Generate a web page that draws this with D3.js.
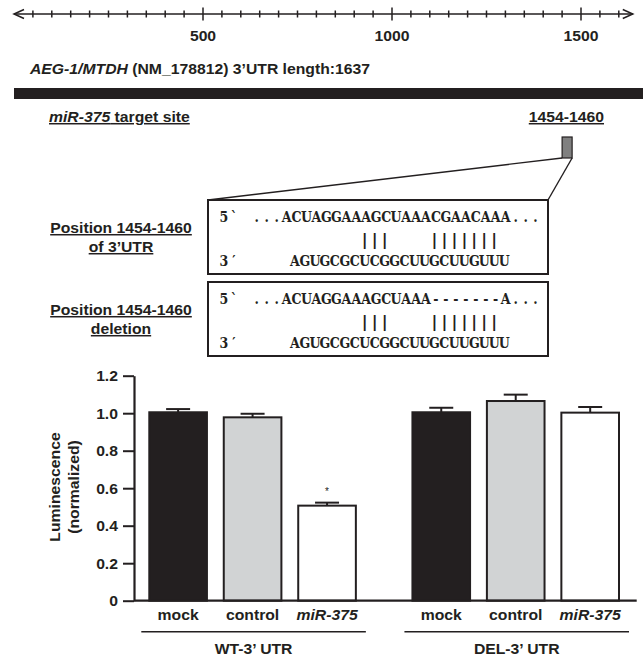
<!DOCTYPE html>
<html>
<head>
<meta charset="utf-8">
<script src="https://cdn.jsdelivr.net/npm/d3@7"></script>
<style>
  body { margin: 0; background: #fff; }
  svg { display: block; }
</style>
</head>
<body>
<svg id="fig"></svg>
<script>
// ---- data ----
var utrLength = 1637;
var rulerMajor = [500, 1000, 1500];
var rulerMinor = [50,100,150,200,250,300,350,400,450,550,600,650,700,750,800,850,900,950,
                  1050,1100,1150,1200,1250,1300,1350,1400,1450,1550,1600];
var siteRange = [1454, 1460];

var wtTarget  = "...ACUAGGAAAGCUAAACGAACAAA...";
var delTarget = "...ACUAGGAAAGCUAAA-------A...";
var mirSeq    = "AGUGCGCUCGGCUUGCUUGUUU";
var pairing   = "       |||    |||||||";

var groups = ["WT-3\u2019 UTR", "DEL-3\u2019 UTR"];
var treatments = ["mock", "control", "miR-375"];
var wtMeans  = [1.005, 0.978, 0.507];
var wtErrors = [0.017, 0.019, 0.016];
var delMeans  = [1.005, 1.065, 1.003];
var delErrors = [0.024, 0.034, 0.030];
var yTicks = [0, 0.2, 0.4, 0.6, 0.8, 1.0, 1.2];
var starred = [["WT-3\u2019 UTR", "miR-375"]];

var width = 643, height = 659;
var INK = "#231f20";
var SANS = "'Liberation Sans', Arial, Helvetica, sans-serif";
var SERIF = "'DejaVu Serif', 'Liberation Serif', serif";
var SX = 1.05;   // the figure's type is a bit wider than Arial
var FS = 15;
var CELL = 9.96; // monospace cell width
var MSX = 0.9;   // squeeze for the slab glyphs

var svg = d3.select("#fig").attr("width", width).attr("height", height);
svg.append("rect").attr("width", width).attr("height", height).attr("fill", "#fff");

// sans label, stretched along its own direction
function label(x, y, anchor, rot){
    return svg.append("text")
        .attr("transform", "translate(" + x + "," + y + ")" + (rot ? " rotate(" + rot + ")" : "") + " scale(" + SX + ",1)")
        .attr("text-anchor", anchor)
        .style("font-family", SANS)
        .style("font-weight", "bold")
        .style("font-size", FS + "px")
        .attr("fill", INK);
}

// typewriter row: every character sits in its own cell
function monoRow(x, y, str, font, size, sq){
    var xs = [], chars = "";
    str.split("").forEach(function(c, i){
        if (c === " ") return;
        xs.push(((x + i * CELL + CELL / 2) / sq).toFixed(2));
        chars += c;
    });
    svg.append("text")
        .attr("transform", "scale(" + sq + ",1)")
        .attr("x", xs.join(" ")).attr("y", y)
        .attr("text-anchor", "middle")
        .style("font-family", font)
        .style("font-weight", "bold")
        .style("font-size", size + "px")
        .attr("fill", INK)
        .text(chars);
}

// ---- ruler ----
var rx = d3.scaleLinear().domain([0, 1500]).range([14, 581]);
var ry = 14;

svg.append("line")
    .attr("x1", rx(0)).attr("x2", rx(utrLength))
    .attr("y1", ry).attr("y2", ry)
    .attr("stroke", INK).attr("stroke-width", 1.5);

svg.append("polyline")
    .attr("points", [[rx(0) + 10, ry - 4.5], [rx(0), ry], [rx(0) + 10, ry + 4.5]].join(" "))
    .attr("fill", "none").attr("stroke", INK).attr("stroke-width", 1.5);
svg.append("polyline")
    .attr("points", [[rx(utrLength) - 10, ry - 4.5], [rx(utrLength), ry], [rx(utrLength) - 10, ry + 4.5]].join(" "))
    .attr("fill", "none").attr("stroke", INK).attr("stroke-width", 1.5);

svg.append("g").selectAll("line").data(rulerMinor).join("line")
    .attr("x1", function(d){ return rx(d); }).attr("x2", function(d){ return rx(d); })
    .attr("y1", ry - 3.5).attr("y2", ry + 3.5)
    .attr("stroke", INK).attr("stroke-width", 1.5);
svg.append("g").selectAll("line").data(rulerMajor).join("line")
    .attr("x1", function(d){ return rx(d); }).attr("x2", function(d){ return rx(d); })
    .attr("y1", ry - 6.5).attr("y2", ry + 6.5)
    .attr("stroke", INK).attr("stroke-width", 1.5);

rulerMajor.forEach(function(d){
    label(rx(d), 40.5, "middle").text(d);
});

var t = label(30, 74, "start");
t.append("tspan").style("font-style", "italic").text("AEG-1/MTDH");
t.append("tspan").text(" (NM_178812) 3\u2019UTR length:" + utrLength);

// the 3'UTR bar
svg.append("rect")
    .attr("x", rx(0)).attr("y", 88)
    .attr("width", width - rx(0)).attr("height", 11)
    .attr("fill", INK);

var s = label(49, 122, "start").style("text-decoration", "underline");
s.append("tspan").style("font-style", "italic").text("miR-375");
s.append("tspan").text(" target site");

label(604, 122, "end").style("text-decoration", "underline")
    .text(siteRange[0] + "-" + siteRange[1]);

// site marker
var siteX = rx(siteRange[0]) - 1.5;
svg.append("rect")
    .attr("x", siteX).attr("y", 137)
    .attr("width", 10).attr("height", 21)
    .attr("fill", "#808080").attr("stroke", INK).attr("stroke-width", 1.2);

// ---- sequence boxes ----
var boxLeft = 208, boxRight = 548, boxH = 74;
var boxes = [
    {top: 200, lines: ["Position " + siteRange[0] + "-" + siteRange[1], "of 3\u2019UTR"], seq: wtTarget},
    {top: 282, lines: ["Position " + siteRange[0] + "-" + siteRange[1], "deletion"], seq: delTarget}
];

// zoom lines from marker to first box
svg.append("line").attr("x1", siteX).attr("y1", 158).attr("x2", boxLeft).attr("y2", boxes[0].top)
    .attr("stroke", INK).attr("stroke-width", 1.4);
svg.append("line").attr("x1", siteX + 10).attr("y1", 158).attr("x2", boxRight).attr("y2", boxes[0].top)
    .attr("stroke", INK).attr("stroke-width", 1.4);

boxes.forEach(function(b){
    svg.append("rect")
        .attr("x", boxLeft).attr("y", b.top)
        .attr("width", boxRight - boxLeft).attr("height", boxH)
        .attr("fill", "#fff").attr("stroke", INK).attr("stroke-width", 2);

    monoRow(219, b.top + 22, "5`", SERIF, 14, MSX);
    monoRow(251.7, b.top + 22, b.seq, SERIF, 14, MSX);
    monoRow(290, b.top + 45, pairing, "'DejaVu Sans', sans-serif", 16, 1);
    monoRow(219, b.top + 66, "3\u2032", SERIF, 14, MSX);
    monoRow(290, b.top + 66, mirSeq, SERIF, 14, MSX);

    label(121, b.top + 33, "middle").style("text-decoration", "underline").text(b.lines[0]);
    label(121, b.top + 52, "middle").style("text-decoration", "underline").text(b.lines[1]);
});

// ---- bar chart ----
var y = d3.scaleLinear().domain([0, 1.2]).range([600.7, 375.7]);
var x0 = d3.scaleBand().domain(groups).range([149.3, 619]).paddingInner(0.215);
var x1 = d3.scaleBand().domain(treatments).range([0, x0.bandwidth()]).paddingInner(0.226);
var fills = {"mock": INK, "control": "#d1d3d4", "miR-375": "#fff"};

var rows = [];
treatments.forEach(function(tr, i){
    rows.push({group: groups[0], tr: tr, mean: wtMeans[i], err: wtErrors[i]});
    rows.push({group: groups[1], tr: tr, mean: delMeans[i], err: delErrors[i]});
});
function cx(d){ return x0(d.group) + x1(d.tr) + x1.bandwidth() / 2; }

var axisX = 134;
var yAxis = d3.axisLeft(y).tickValues(yTicks).tickSize(11).tickSizeOuter(0).tickPadding(5)
    .tickFormat(function(d){ return d === 0 ? "0" : d.toFixed(1); });
var ga = svg.append("g").attr("transform", "translate(" + axisX + ",0)").call(yAxis);
ga.select(".domain").attr("stroke", INK).attr("stroke-width", 2.2);
ga.selectAll(".tick line").attr("stroke", INK).attr("stroke-width", 2);
ga.selectAll(".tick text").each(function(){
    var el = d3.select(this);
    var tx = +el.attr("x");
    el.attr("x", 0).attr("dy", null).attr("y", 5)
      .attr("transform", "translate(" + tx + ",0) scale(" + SX + ",1)");
}).style("font-family", SANS).style("font-weight", "bold").style("font-size", FS + "px").attr("fill", INK);

// bars
svg.append("g").selectAll("rect").data(rows).join("rect")
    .attr("x", function(d){ return x0(d.group) + x1(d.tr); })
    .attr("y", function(d){ return y(d.mean); })
    .attr("width", x1.bandwidth())
    .attr("height", function(d){ return y(0) - y(d.mean); })
    .attr("fill", function(d){ return fills[d.tr]; })
    .attr("stroke", INK).attr("stroke-width", 2);

// error bars
var ge = svg.append("g").attr("stroke", INK).attr("stroke-width", 2);
ge.selectAll("line.v").data(rows).join("line").attr("class", "v")
    .attr("x1", cx).attr("x2", cx)
    .attr("y1", function(d){ return y(d.mean); })
    .attr("y2", function(d){ return y(d.mean + d.err); });
ge.selectAll("line.c").data(rows).join("line").attr("class", "c")
    .attr("x1", function(d){ return cx(d) - 12; }).attr("x2", function(d){ return cx(d) + 12; })
    .attr("y1", function(d){ return y(d.mean + d.err); })
    .attr("y2", function(d){ return y(d.mean + d.err); });

// significance
rows.filter(function(d){
    return starred.some(function(p){ return p[0] === d.group && p[1] === d.tr; });
}).forEach(function(d){
    svg.append("text")
        .attr("x", cx(d)).attr("y", y(d.mean + d.err) - 8)
        .attr("text-anchor", "middle")
        .style("font-family", SANS).style("font-size", "10px")
        .attr("fill", INK).text("*");
});

// baseline
svg.append("line")
    .attr("x1", axisX).attr("x2", 636.7)
    .attr("y1", y(0)).attr("y2", y(0))
    .attr("stroke", INK).attr("stroke-width", 2.2);

// category labels
rows.forEach(function(d){
    var l = label(cx(d), 620, "middle").text(d.tr);
    if (d.tr === "miR-375") l.style("font-style", "italic");
});

// group underlines and names
groups.forEach(function(g){
    svg.append("line")
        .attr("x1", x0(g) - 8).attr("x2", x0(g) + x0.bandwidth() + 10)
        .attr("y1", 631.7).attr("y2", 631.7)
        .attr("stroke", INK).attr("stroke-width", 1.6);
    label(x0(g) + x0.bandwidth() / 2 + 1, 654, "middle").text(g);
});

// y title
label(60, 487, "middle", -90).text("Luminescence");
label(79, 487, "middle", -90).text("(normalized)");
</script>
</body>
</html>
